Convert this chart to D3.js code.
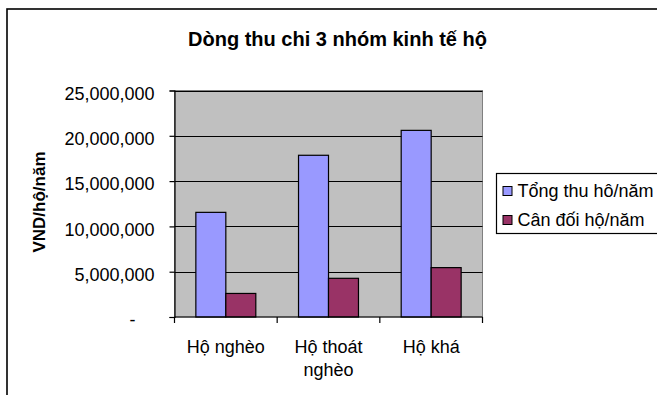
<!DOCTYPE html>
<html>
<head>
<meta charset="utf-8">
<script src="https://cdn.jsdelivr.net/npm/d3@7/dist/d3.min.js"></script>
<style>
  html, body { margin: 0; padding: 0; background: #ffffff; }
  svg { display: block; font-family: "Liberation Sans", Arial, sans-serif; }
</style>
</head>
<body>
<svg id="chart" width="657" height="395"></svg>
<script>
// Household groups and their yearly figures (VND per household per year)
const categories = ["Hộ nghèo", "Hộ thoát nghèo", "Hộ khá"];
const seriesNames = ["Tổng thu hô/năm", "Cân đối hộ/năm"];
const totalIncome = [11550000, 17850000, 20600000];
const balance = [2600000, 4270000, 5450000];
const yTicks = [0, 5000000, 10000000, 15000000, 20000000, 25000000];
const titleText = "Dòng thu chi 3 nhóm kinh tế hộ";
const yAxisTitle = "VND/hộ/năm";
const seriesColors = ["#9999ff", "#993366"];

const seriesValues = [totalIncome, balance];
const rows = categories.map((c, i) => ({
  category: c,
  values: seriesNames.map((s, k) => ({ series: s, value: seriesValues[k][i], color: seriesColors[k] }))
}));

const svg = d3.select("#chart");
const plot = { left: 174.5, right: 482.5, top: 90.5, bottom: 317 };

// Outer chart frame (runs off the right and bottom edges)
svg.append("rect")
  .attr("x", 7).attr("y", 9)
  .attr("width", 700).attr("height", 420)
  .attr("fill", "#ffffff")
  .attr("stroke", "#000000")
  .attr("stroke-width", 1.6);

// Title
svg.append("text")
  .attr("x", 337.5).attr("y", 45.5)
  .attr("text-anchor", "middle")
  .attr("font-size", 20).attr("font-weight", "bold")
  .attr("fill", "#000")
  .text(titleText);

const x0 = d3.scaleBand()
  .domain(categories)
  .range([plot.left, plot.right])
  .paddingInner(0.416)
  .paddingOuter(0.208);

const x1 = d3.scaleBand()
  .domain(seriesNames)
  .range([0, x0.bandwidth()]);

const y = d3.scaleLinear()
  .domain([0, 25000000])
  .range([plot.bottom, plot.top]);

// Plot area background
svg.append("rect")
  .attr("x", plot.left).attr("y", plot.top)
  .attr("width", plot.right - plot.left).attr("height", plot.bottom - plot.top)
  .attr("fill", "#c0c0c0")
  .attr("stroke", "#808080")
  .attr("stroke-width", 1);

// Horizontal gridlines
svg.append("g")
  .selectAll("line")
  .data(yTicks.filter(t => t > 0))
  .join("line")
  .attr("x1", plot.left).attr("x2", plot.right)
  .attr("y1", d => Math.round(y(d)) + 0.5).attr("y2", d => Math.round(y(d)) + 0.5)
  .attr("stroke", "#000").attr("stroke-width", 1);

// Bars
const groups = svg.append("g")
  .selectAll("g")
  .data(rows)
  .join("g")
  .attr("transform", d => `translate(${x0(d.category)},0)`);

groups.selectAll("rect")
  .data(d => d.values)
  .join("rect")
  .attr("x", d => x1(d.series))
  .attr("y", d => y(d.value))
  .attr("width", x1.bandwidth())
  .attr("height", d => y(0) - y(d.value))
  .attr("fill", d => d.color)
  .attr("stroke", "#000")
  .attr("stroke-width", 1.2);

// Y axis
const fmt = d3.format(",");
const yAxis = d3.axisLeft(y)
  .tickValues(yTicks)
  .tickSize(5)
  .tickPadding(15)
  .tickFormat(d => d === 0 ? "-" : fmt(d));

const yG = svg.append("g")
  .attr("transform", `translate(${plot.left},0)`)
  .call(yAxis);
yG.select(".domain").attr("stroke", "#000").attr("stroke-width", 1.2);
yG.selectAll(".tick line").attr("stroke", "#000").attr("stroke-width", 1.2);
yG.selectAll(".tick text")
  .attr("font-size", 18)
  .attr("font-family", "Liberation Sans, Arial, sans-serif")
  .attr("fill", "#000")
  .attr("dy", "0.48em")
  .attr("dx", d => d === 0 ? -19 : 0);

// X axis: ticks sit on the category boundaries
const xG = svg.append("g")
  .attr("transform", `translate(0,${plot.bottom})`);
xG.append("line")
  .attr("x1", plot.left).attr("x2", plot.right)
  .attr("y1", 0).attr("y2", 0)
  .attr("stroke", "#000").attr("stroke-width", 1.2);
const step = x0.step();
const boundaries = d3.range(categories.length + 1).map(i => plot.left + i * step);
xG.selectAll("line.tick")
  .data(boundaries)
  .join("line")
  .attr("class", "tick")
  .attr("x1", d => d).attr("x2", d => d)
  .attr("y1", 0).attr("y2", 6)
  .attr("stroke", "#000").attr("stroke-width", 1.2);

// Category labels, wrapped to the category width
const labels = xG.selectAll("text")
  .data(categories)
  .join("text")
  .attr("x", d => x0(d) + x0.bandwidth() / 2)
  .attr("y", 36)
  .attr("text-anchor", "middle")
  .attr("font-size", 18)
  .attr("fill", "#000");

labels.each(function(d) {
  const t = d3.select(this);
  const cx = +t.attr("x");
  const words = d.split(" ");
  let line = [];
  let tspan = t.append("tspan").attr("x", cx).attr("dy", 0);
  let lineNo = 0;
  words.forEach(w => {
    line.push(w);
    tspan.text(line.join(" "));
    if (tspan.node().getComputedTextLength() > step * 0.95 && line.length > 1) {
      line.pop();
      tspan.text(line.join(" "));
      line = [w];
      lineNo++;
      tspan = t.append("tspan").attr("x", cx).attr("dy", 22.7).text(w);
    }
  });
});

// Y axis title
svg.append("text")
  .attr("transform", "translate(45,202) rotate(-90)")
  .attr("text-anchor", "middle")
  .attr("font-size", 17).attr("font-weight", "bold")
  .attr("fill", "#000")
  .text(yAxisTitle);

// Legend
const legend = svg.append("g").attr("transform", "translate(496.5,173.5)");
legend.append("rect")
  .attr("x", 0).attr("y", 0)
  .attr("width", 200).attr("height", 60)
  .attr("fill", "#ffffff")
  .attr("stroke", "#000").attr("stroke-width", 1.2);

const items = legend.selectAll("g.item")
  .data(seriesNames)
  .join("g")
  .attr("class", "item")
  .attr("transform", (d, i) => `translate(0,${i * 29})`);
items.append("rect")
  .attr("x", 6.5).attr("y", 13)
  .attr("width", 9).attr("height", 9)
  .attr("fill", (d, i) => seriesColors[i])
  .attr("stroke", "#000").attr("stroke-width", 1);
items.append("text")
  .attr("x", 21).attr("y", 23)
  .attr("font-size", 18)
  .attr("fill", "#000")
  .text(d => d);
</script>
</body>
</html>
